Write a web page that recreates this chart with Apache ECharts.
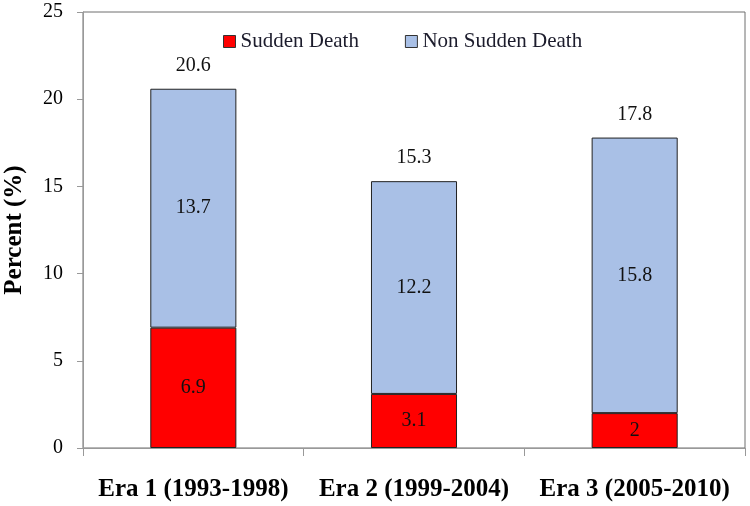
<!DOCTYPE html>
<html>
<head>
<meta charset="utf-8">
<script src="https://cdn.jsdelivr.net/npm/echarts@6/dist/echarts.min.js"></script>
<style>html,body{margin:0;padding:0;background:#fff}#c{width:750px;height:506px}</style>
</head>
<body>
<div id="c"></div>
<script>
const categories = ['Era 1 (1993-1998)', 'Era 2 (1999-2004)', 'Era 3 (2005-2010)'];
const suddenDeath = [6.9, 3.1, 2];
const nonSuddenDeath = [13.7, 12.2, 15.8];
const totals = [20.6, 15.3, 17.8];
const yTicks = [0, 5, 10, 15, 20, 25];

const font = '"Liberation Serif", "Times New Roman", serif';
const chart = echarts.init(document.getElementById('c'));
chart.setOption({
  animation: false,
  textStyle: { fontFamily: font },
  grid: { left: 83, right: 5, top: 12, bottom: 58, show: true, borderColor: '#6e6e6e', borderWidth: 1, containLabel: false, outerBoundsMode: 'none' },
  legend: {
    data: ['Sudden Death', 'Non Sudden Death'],
    top: 26, left: 218,
    itemGap: 46,
    itemStyle: { borderColor: '#333', borderWidth: 1 },
    icon: 'rect', itemWidth: 12, itemHeight: 12,
    textStyle: { fontFamily: font, fontSize: 21, color: '#1c1c2c' }
  },
  xAxis: {
    type: 'category',
    data: categories,
    axisLine: { lineStyle: { color: '#999', width: 1 } },
    axisTick: { show: true, alignWithLabel: false, length: 8, lineStyle: { color: '#999' } },
    axisLabel: { interval: 0, hideOverlap: false, fontFamily: font, fontSize: 25, fontWeight: 'bold', color: '#000', margin: 29 }
  },
  yAxis: {
    type: 'value',
    min: yTicks[0], max: yTicks[yTicks.length - 1], interval: 5,
    name: 'Percent (%)',
    nameLocation: 'middle', nameGap: 56, nameRotate: 90,
    nameTextStyle: { fontFamily: font, fontSize: 25, fontWeight: 'bold', color: '#000' },
    axisLine: { show: true, lineStyle: { color: '#999' } },
    axisTick: { show: true, length: 6, lineStyle: { color: '#999' } },
    splitLine: { show: false },
    axisLabel: { fontFamily: font, fontSize: 20, color: '#000', margin: 20 }
  },
  series: [
    {
      name: 'Sudden Death', type: 'bar', stack: 's', barWidth: '39%',
      data: suddenDeath,
      itemStyle: { color: '#ff0000', borderColor: '#222', borderWidth: 1 },
      label: { show: true, position: 'inside', fontFamily: font, fontSize: 20, color: '#111' }
    },
    {
      name: 'Non Sudden Death', type: 'bar', stack: 's', barWidth: '39%',
      data: nonSuddenDeath,
      itemStyle: { color: '#a9c0e6', borderColor: '#222', borderWidth: 1 },
      label: { show: true, position: 'inside', fontFamily: font, fontSize: 20, color: '#111' }
    },
    {
      name: 'Total', type: 'bar', stack: 's', barWidth: '39%',
      data: totals.map(() => 0),
      itemStyle: { color: 'transparent' },
      label: {
        show: true, position: 'top', distance: 13,
        fontFamily: font, fontSize: 20, color: '#111',
        formatter: p => String(totals[p.dataIndex])
      }
    }
  ]
});
</script>
</body>
</html>
